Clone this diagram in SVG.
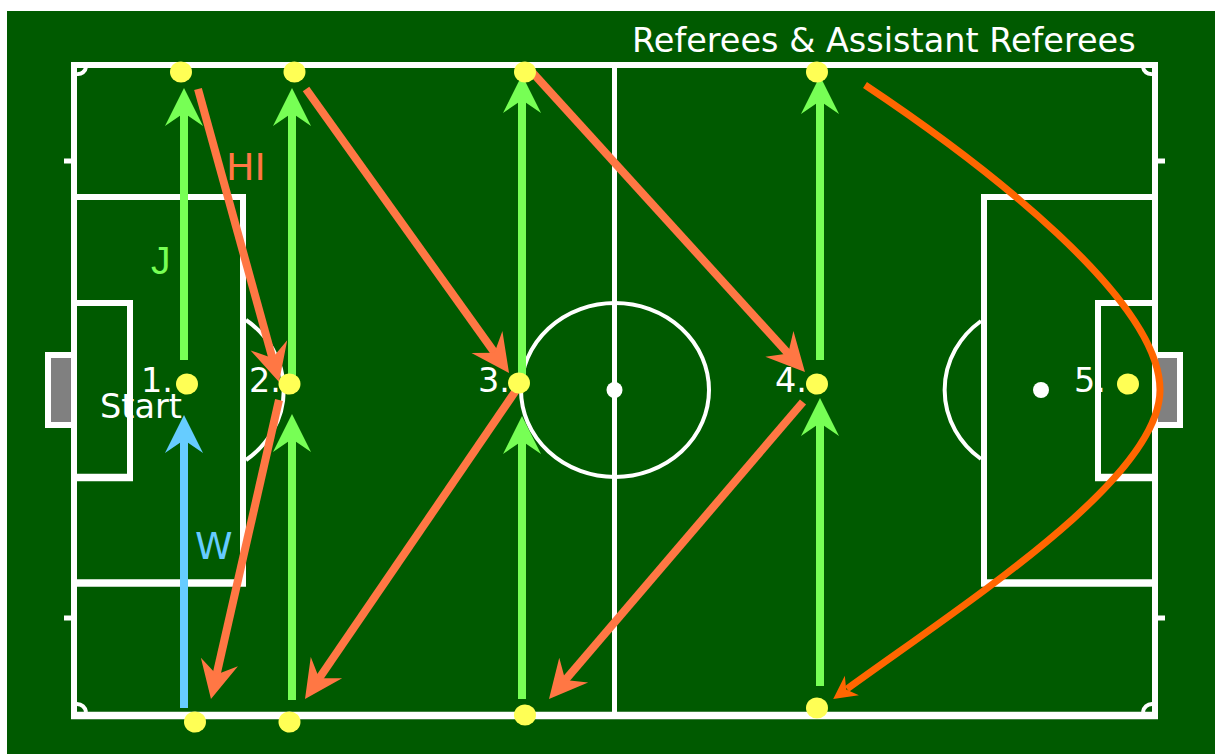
<svg xmlns="http://www.w3.org/2000/svg" width="1215" height="754" viewBox="0 0 1215 754">
<style>
.f{fill:none;stroke:#fff;stroke-width:6}
.w{fill:none;stroke:#fff;stroke-width:7.500}
.a{fill:none;stroke:#fff;stroke-width:4}
.s{fill:#fff}
.d{fill:#ffff55}
.g{stroke:#77ff55;stroke-width:8;fill:none}
.b{stroke:#66ccff;stroke-width:8;fill:none}
.o{stroke:#ff7744;stroke-width:8;fill:none}
.t{font-family:"DejaVu Sans",sans-serif;font-size:33.500px;fill:#fff}
.l{font-family:"DejaVu Sans",sans-serif;font-size:38px}
</style>
<defs>
<marker id="mg" markerUnits="userSpaceOnUse" markerWidth="40" markerHeight="40" viewBox="0 0 40 40" refX="18" refY="20" orient="auto"><path d="M38,20 L0,1 L13,20 L0,39 Z" fill="#77ff55"/></marker>
<marker id="mb" markerUnits="userSpaceOnUse" markerWidth="40" markerHeight="40" viewBox="0 0 40 40" refX="18" refY="20" orient="auto"><path d="M38,20 L0,1 L13,20 L0,39 Z" fill="#66ccff"/></marker>
<marker id="mo" markerUnits="userSpaceOnUse" markerWidth="40" markerHeight="40" viewBox="0 0 40 40" refX="18" refY="20" orient="auto"><path d="M38,20 L0,1 L13,20 L0,39 Z" fill="#ff7744"/></marker>
<marker id="mr" markerUnits="userSpaceOnUse" markerWidth="30" markerHeight="30" viewBox="0 0 30 30" refX="8" refY="15" orient="auto"><path d="M25,15 L2,3 L9,15 L2,27 Z" fill="#ff6600"/></marker>
</defs>
<rect width="1215" height="754" fill="#fff"/>
<rect x="7" y="11" width="1208" height="743" fill="#005a00"/>
<g id="pitch">
<rect x="48" y="355" width="26" height="70" fill="#808080" stroke="#fff" stroke-width="6"/>
<rect x="1155" y="355" width="25" height="70" fill="#808080" stroke="#fff" stroke-width="6"/>
<path class="a" d="M246,320 A93,87 0 0 1 246,460"/>
<path class="a" d="M981,321 A93,87 0 0 0 981,459"/>
<rect class="f" x="74" y="65" width="1081" height="650"/>
<path class="w" d="M71,715.500 H1158"/>
<path d="M614.500,65 V715" fill="none" stroke="#fff" stroke-width="5"/>
<ellipse class="a" cx="615" cy="390" rx="94" ry="87"/>
<circle class="s" cx="614.500" cy="390" r="8"/>
<circle class="s" cx="1041" cy="390" r="8"/>
<path class="f" d="M74,197 H243 V583 H74"/>
<path class="w" d="M74,583 H246"/>
<path class="f" d="M74,303 H130 V477 H74"/>
<path class="w" d="M74,477.500 H133"/>
<path class="f" d="M1155,197 H984 V583 H1155"/>
<path class="w" d="M1155,583 H981"/>
<path class="f" d="M1155,303 H1098 V477 H1155"/>
<path class="w" d="M1155,477.500 H1095"/>
<path class="a" d="M77,74 A8,8 0 0 0 86,67 M1143,67 A8,8 0 0 0 1152,74 M77,704 A9,9 0 0 1 86,712 M1143,712 A9,9 0 0 1 1152,704"/>
<path d="M64,161 H72 M64,618 H72 M1157,161 H1165 M1157,618 H1165" stroke="#fff" stroke-width="5" fill="none"/>
</g>
<g id="connectors">
<path class="g" d="M184,360 V108" marker-end="url(#mg)"/>
<path class="g" d="M292,378 V108" marker-end="url(#mg)"/>
<path class="g" d="M522,378 V95" marker-end="url(#mg)"/>
<path class="g" d="M820,360 V96" marker-end="url(#mg)"/>
<path class="g" d="M292,700 V434" marker-end="url(#mg)"/>
<path class="g" d="M522,699 V436" marker-end="url(#mg)"/>
<path class="g" d="M820,686 V418" marker-end="url(#mg)"/>
<path class="b" d="M184,708 V435" marker-end="url(#mb)"/>
<path class="o" d="M198,89 L273.700,362.700" marker-end="url(#mo)"/>
<path class="o" d="M279,400 L215.400,679.500" marker-end="url(#mo)"/>
<path class="o" d="M306,89 L497.400,356.700" marker-end="url(#mo)"/>
<path class="o" d="M519,386 L316.300,682.500" marker-end="url(#mo)"/>
<path class="o" d="M532,72 L791.500,357.200" marker-end="url(#mo)"/>
<path class="o" d="M803,402 L562,683.800" marker-end="url(#mo)"/>
<path d="M865,85 C985,165 1160,300 1160,390 C1160,478 970,600 847,689" fill="none" stroke="#ff6600" stroke-width="7" marker-end="url(#mr)"/>
</g>
<g id="referees">
<ellipse class="d" cx="181" cy="72" rx="11" ry="10.500"/>
<ellipse class="d" cx="294.500" cy="72" rx="11" ry="10.500"/>
<ellipse class="d" cx="525" cy="72" rx="11" ry="10.500"/>
<ellipse class="d" cx="817" cy="72" rx="11" ry="10.500"/>
<ellipse class="d" cx="187" cy="384" rx="11" ry="10.500"/>
<ellipse class="d" cx="289.500" cy="384" rx="11" ry="10.500"/>
<ellipse class="d" cx="519" cy="383" rx="11" ry="10.500"/>
<ellipse class="d" cx="817" cy="384" rx="11" ry="10.500"/>
<ellipse class="d" cx="1128" cy="384" rx="11" ry="10.500"/>
<ellipse class="d" cx="195" cy="722" rx="11" ry="10.500"/>
<ellipse class="d" cx="289.500" cy="722" rx="11" ry="10.500"/>
<ellipse class="d" cx="525" cy="715" rx="11" ry="10.500"/>
<ellipse class="d" cx="817" cy="708" rx="11" ry="10.500"/>
</g>
<g id="labels">
<text class="t" x="632" y="52">Referees &amp; Assistant Referees</text>
<text class="l" x="226" y="180" fill="#ff7744">HI</text>
<text x="151" y="274" fill="#77ff55" style="font-family:'Liberation Sans',sans-serif;font-size:39px">J</text>
<text class="l" x="195" y="559" fill="#66ccff">W</text>
<text class="t" x="141" y="392">1.</text>
<text class="t" x="249" y="392">2.</text>
<text class="t" x="478" y="392">3.</text>
<text class="t" x="775" y="392">4.</text>
<text class="t" x="1074" y="392">5.</text>
<text class="t" x="100" y="418">Start</text>
</g>
</svg>
